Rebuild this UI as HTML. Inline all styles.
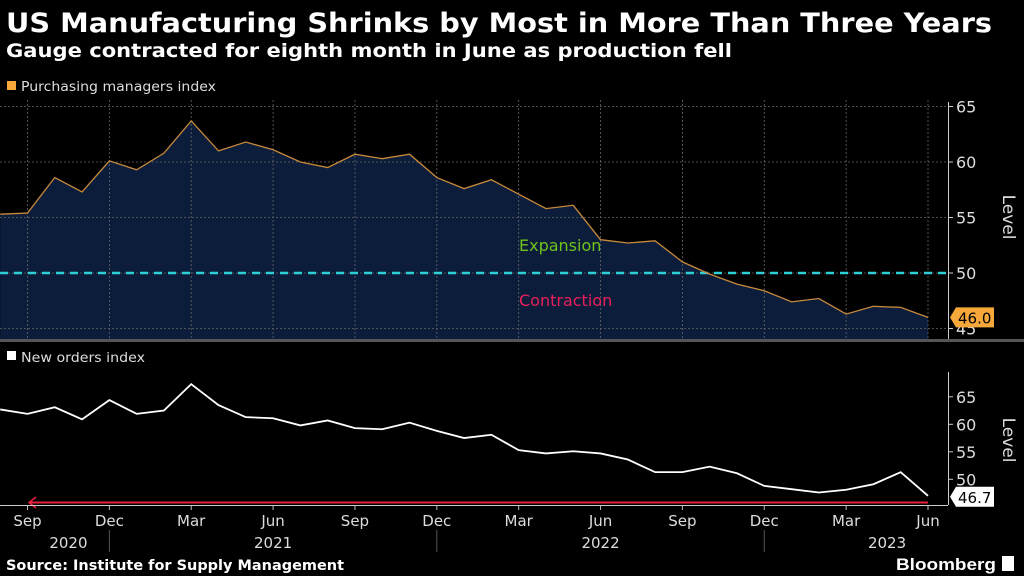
<!DOCTYPE html>
<html><head><meta charset="utf-8"><style>
html,body{margin:0;padding:0;background:#000;width:1024px;height:576px;overflow:hidden}
svg{display:block}
</style></head><body>
<svg id="chart" width="1024" height="576" viewBox="0 0 1024 576" xmlns="http://www.w3.org/2000/svg">
<rect width="1024" height="576" fill="#000"/>
<text x="6" y="32" fill="#fff" font-family="DejaVu Sans, sans-serif" font-weight="bold" font-size="27" textLength="986" lengthAdjust="spacingAndGlyphs">US Manufacturing Shrinks by Most in More Than Three Years</text>
<text x="6" y="57" fill="#fff" font-family="DejaVu Sans, sans-serif" font-weight="bold" font-size="19" textLength="726" lengthAdjust="spacingAndGlyphs">Gauge contracted for eighth month in June as production fell</text>
<rect x="7" y="81" width="9" height="9" fill="#f6a83a"/>
<text x="21" y="91" fill="#ddd" font-family="DejaVu Sans, sans-serif" font-size="13" textLength="195" lengthAdjust="spacingAndGlyphs">Purchasing managers index</text>
<g id="topPanel"></g>
<rect x="0" y="339" width="1024" height="3" fill="#555"/>
<rect x="7" y="351" width="9" height="9" fill="#fff"/>
<text x="21" y="362" fill="#ddd" font-family="DejaVu Sans, sans-serif" font-size="13" textLength="124" lengthAdjust="spacingAndGlyphs">New orders index</text>
<g id="botPanel"></g>
<text x="6" y="570" fill="#fff" font-family="DejaVu Sans, sans-serif" font-weight="bold" font-size="14" textLength="338" lengthAdjust="spacingAndGlyphs">Source: Institute for Supply Management</text>
<text x="896" y="570" fill="#fff" font-family="Liberation Sans, sans-serif" font-weight="bold" font-size="17" textLength="100" lengthAdjust="spacingAndGlyphs">Bloomberg</text>
<rect x="1002" y="556" width="12" height="15" fill="#fff"/>
</svg>
<script>
const months = ["Aug 2020","Sep 2020","Oct 2020","Nov 2020","Dec 2020","Jan 2021","Feb 2021","Mar 2021","Apr 2021","May 2021","Jun 2021","Jul 2021","Aug 2021","Sep 2021","Oct 2021","Nov 2021","Dec 2021","Jan 2022","Feb 2022","Mar 2022","Apr 2022","May 2022","Jun 2022","Jul 2022","Aug 2022","Sep 2022","Oct 2022","Nov 2022","Dec 2022","Jan 2023","Feb 2023","Mar 2023","Apr 2023","May 2023","Jun 2023"];
const pmiValues = [55.3,55.4,58.6,57.3,60.1,59.3,60.8,63.7,61.0,61.8,61.1,60.0,59.5,60.7,60.3,60.7,58.6,57.6,58.4,57.1,55.8,56.1,53.0,52.7,52.9,51.0,49.9,49.0,48.4,47.4,47.7,46.3,47.0,46.9,46.0];
const ordersValues = [62.7,61.9,63.1,60.9,64.4,61.9,62.5,67.3,63.5,61.3,61.1,59.8,60.7,59.3,59.1,60.3,58.8,57.5,58.1,55.3,54.7,55.1,54.7,53.6,51.3,51.3,52.3,51.1,48.8,48.2,47.6,48.1,49.1,51.3,47.0];
const pmiTicks = [45,50,55,60,65];
const ordersTicks = [50,55,60,65];
const monthTickLabels = ["Sep","Dec","Mar","Jun","Sep","Dec","Mar","Jun","Sep","Dec","Mar","Jun"];
const yearLabels = ["2020","2021","2022","2023"];
const pmiLast = "46.0", ordersLast = "46.7";

const NS="http://www.w3.org/2000/svg";
function mk(parent,tag,attrs){const e=document.createElementNS(NS,tag);for(const k in attrs)e.setAttribute(k,attrs[k]);parent.appendChild(e);return e;}
const step=(928-0.2)/(months.length-1);
function x(i){return 0.2+i*step;}
function yTop(v){return 273-(v-50)*11.1;}
function yBot(v){return 479.3-(v-50)*5.5;}
const topG=document.getElementById('topPanel'), botG=document.getElementById('botPanel');

let d="M"+x(0)+","+339;
pmiValues.forEach((v,i)=>{d+=" L"+x(i)+","+yTop(v);});
d+=" L"+x(pmiValues.length-1)+",339 Z";
let area=mk(topG,'path',{d:d,fill:'#0b1d3b'});


for(let i=1;i<months.length;i+=3){
  let g=mk(topG,'line',{x1:x(i),x2:x(i),y1:100,y2:339,stroke:'#666','stroke-width':0.8,'stroke-dasharray':'2,2'});
  
  
  let g2=mk(botG,'line',{x1:x(i),x2:x(i),y1:505,y2:510,stroke:'#bbb','stroke-width':1});
  
  
}
pmiTicks.forEach(t=>{
  let g=mk(topG,'line',{x1:0,x2:948,y1:yTop(t),y2:yTop(t),stroke:'#666','stroke-width':0.8,'stroke-dasharray':'2,2'});
  
  
  let tk=mk(topG,'line',{x1:948,x2:953,y1:yTop(t),y2:yTop(t),stroke:'#ccc'});
  
  
  let lb=mk(topG,'text',{x:956,y:yTop(t)+6,fill:'#ddd','font-family':'DejaVu Sans, sans-serif','font-size':16});
  lb.textContent=t;
  
  
});
let th=mk(topG,'line',{x1:0,x2:948,y1:yTop(50),y2:yTop(50),stroke:'#2ed0d8','stroke-width':2.5,'stroke-dasharray':'8,6'});


let ex=mk(topG,'text',{x:519,y:251,fill:'#6fc21c','font-family':'DejaVu Sans, sans-serif','font-size':16});
ex.textContent='Expansion';


let co=mk(topG,'text',{x:519,y:306,fill:'#e8205a','font-family':'DejaVu Sans, sans-serif','font-size':16});
co.textContent='Contraction';


let pl=mk(topG,'polyline',{points:pmiValues.map((v,i)=>x(i)+","+yTop(v)).join(" "),fill:'none',stroke:'#c7893a','stroke-width':1.3});


let ax=mk(topG,'line',{x1:948.5,x2:948.5,y1:102,y2:339,stroke:'#ccc'});


let ly=yTop(pmiValues[pmiValues.length-1]);
let badge=mk(topG,'path',{d:`M950,${ly} L956,${ly-10} L994,${ly-10} L994,${ly+10} L956,${ly+10} Z`,fill:'#f6a83a'});


let bt=mk(topG,'text',{x:958,y:ly+6,fill:'#000','font-family':'DejaVu Sans, sans-serif','font-size':15});
bt.textContent=pmiLast;


let lv=mk(topG,'text',{transform:'translate(1003,217) rotate(90)','text-anchor':'middle',fill:'#ddd','font-family':'DejaVu Sans, sans-serif','font-size':17});
lv.textContent='Level';



ordersTicks.forEach(t=>{
  let tk=mk(botG,'line',{x1:948,x2:953,y1:yBot(t),y2:yBot(t),stroke:'#ccc'});
  
  
  let lb=mk(botG,'text',{x:956,y:yBot(t)+6,fill:'#ddd','font-family':'DejaVu Sans, sans-serif','font-size':16});
  lb.textContent=t;
  
  
});
let arr=mk(botG,'line',{x1:30,x2:928,y1:502.5,y2:502.5,stroke:'#e8203c','stroke-width':2});


let ah=mk(botG,'polyline',{points:'36,497 29,502.5 36,508',fill:'none',stroke:'#e8203c','stroke-width':1.5});


let ol=mk(botG,'polyline',{points:ordersValues.map((v,i)=>x(i)+","+yBot(v)).join(" "),fill:'none',stroke:'#fff','stroke-width':1.8});


let ax2=mk(botG,'line',{x1:948.5,x2:948.5,y1:372,y2:505,stroke:'#ccc'});


let xa=mk(botG,'line',{x1:0,x2:948,y1:505.5,y2:505.5,stroke:'#ccc'});


let oy=yBot(ordersValues[ordersValues.length-1])+1;
let b2=mk(botG,'path',{d:`M950,${oy} L956,${oy-10} L994,${oy-10} L994,${oy+10} L956,${oy+10} Z`,fill:'#fff'});


let b2t=mk(botG,'text',{x:958,y:oy+6,fill:'#000','font-family':'DejaVu Sans, sans-serif','font-size':15});
b2t.textContent=ordersLast;


let lv2=mk(botG,'text',{transform:'translate(1003,440) rotate(90)','text-anchor':'middle',fill:'#ddd','font-family':'DejaVu Sans, sans-serif','font-size':17});
lv2.textContent='Level';


monthTickLabels.forEach((m,k)=>{
  let t=mk(botG,'text',{x:x(1+3*k),y:526,'text-anchor':'middle',fill:'#ddd','font-family':'DejaVu Sans, sans-serif','font-size':15});
  t.textContent=m;
  
  
});
const yearCenters=[x(2.5),x(10),x(22),x(32.5)];
yearLabels.forEach((yl,k)=>{
  let t=mk(botG,'text',{x:yearCenters[k],y:548,'text-anchor':'middle',fill:'#ddd','font-family':'DejaVu Sans, sans-serif','font-size':15});
  t.textContent=yl;
  
  
});
[4,16,28].forEach(i=>{
  let s=mk(botG,'line',{x1:x(i),x2:x(i),y1:530,y2:552,stroke:'#555'});
  
  
});
</script>
</body></html>
